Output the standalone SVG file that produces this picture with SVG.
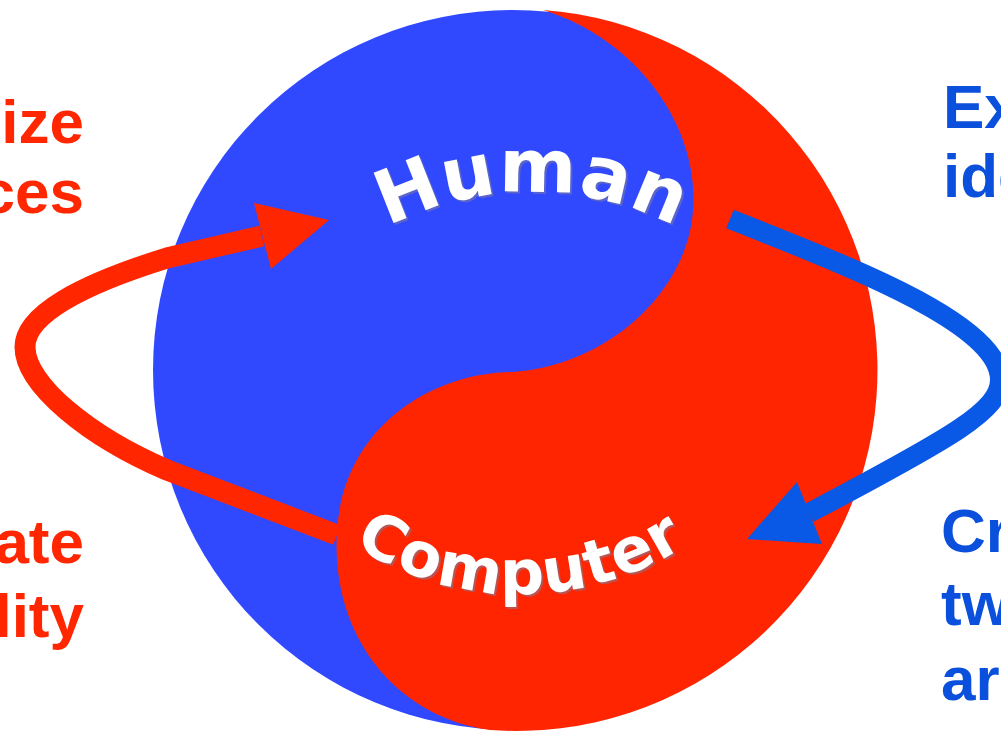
<svg xmlns="http://www.w3.org/2000/svg" width="1001" height="736" viewBox="0 0 1001 736">
  <defs>
    <style>
      .lbl { font-family: "Liberation Sans", Arial, sans-serif; font-weight: bold; font-size: 62px; }
      .red { fill: #FF2600; }
      .blue { fill: #0A50DC; }
      .arc { font-family: "DejaVu Sans", "Verdana", sans-serif; font-weight: bold; }
      .shadow { fill: #7d7d9a; opacity: 0.55; }
      .white { fill: #FFFFFF; }
    </style>
    <path id="humanArc" d="M 218,506 A 314 314 0 0 1 846,506"/>
    <path id="computerArc" d="M 211,285 A 309 309 0 0 0 829,285"/>
  </defs>
  <rect width="1001" height="736" fill="#FFFFFF"/>

  <g id="yin-yang">
    <circle cx="513" cy="370" r="360" fill="#3049FF"/>
    <path d="M 543,10 C 640,40 700,130 693,210 C 688,290 610,365 513,372 C 440,372 345,420 337,530 C 330,640 400,718 490,730 A 360 360 0 0 0 543,10 Z" fill="#FF2500"/>
  </g>

  <g id="human">
    <text class="arc shadow" font-size="74" letter-spacing="1" transform="translate(2,2)"><textPath href="#humanArc" startOffset="50%" text-anchor="middle">Human</textPath></text>
    <text class="arc white" font-size="74" letter-spacing="1"><textPath href="#humanArc" startOffset="50%" text-anchor="middle">Human</textPath></text>
  </g>

  <g id="computer">
    <text class="arc shadow" font-size="62" letter-spacing="1" transform="translate(2,2)"><textPath href="#computerArc" startOffset="50%" text-anchor="middle">Computer</textPath></text>
    <text class="arc white" font-size="62" letter-spacing="1"><textPath href="#computerArc" startOffset="50%" text-anchor="middle">Computer</textPath></text>
  </g>

  <g id="connectors">
    <g id="red-loop">
      <path d="M 337,535 L 167,470 C 90,437 25,385 25,347 C 25,315 80,285 167,258 L 262,236" fill="none" stroke="#FF2600" stroke-width="21"/>
      <polygon points="254,203 271,269 329,220" fill="#FF2600"/>
    </g>
    <g id="blue-loop">
      <path d="M 730,219 L 800,247 C 880,280 1000,330 1000,380 C 1000,410 955,436 809,513" fill="none" stroke="#0A58E6" stroke-width="20"/>
      <polygon points="797,482 822,544 747,539" fill="#0A58E6"/>
    </g>
  </g>

  <g id="label-left-top">
    <text class="lbl red" x="84" y="143" text-anchor="end">ize</text>
    <text class="lbl red" x="84" y="213" text-anchor="end">ces</text>
  </g>
  <g id="label-left-bottom">
    <text class="lbl red" x="84" y="563" text-anchor="end">ate</text>
    <text class="lbl red" x="84" y="637" text-anchor="end">lity</text>
  </g>
  <g id="label-right-top">
    <text class="lbl blue" x="943" y="128">Ex</text>
    <text class="lbl blue" x="943" y="197">ide</text>
  </g>
  <g id="label-right-bottom">
    <text class="lbl blue" x="941" y="552">Cr</text>
    <text class="lbl blue" x="941" y="625">tw</text>
    <text class="lbl blue" x="941" y="700">ar</text>
  </g>
</svg>
